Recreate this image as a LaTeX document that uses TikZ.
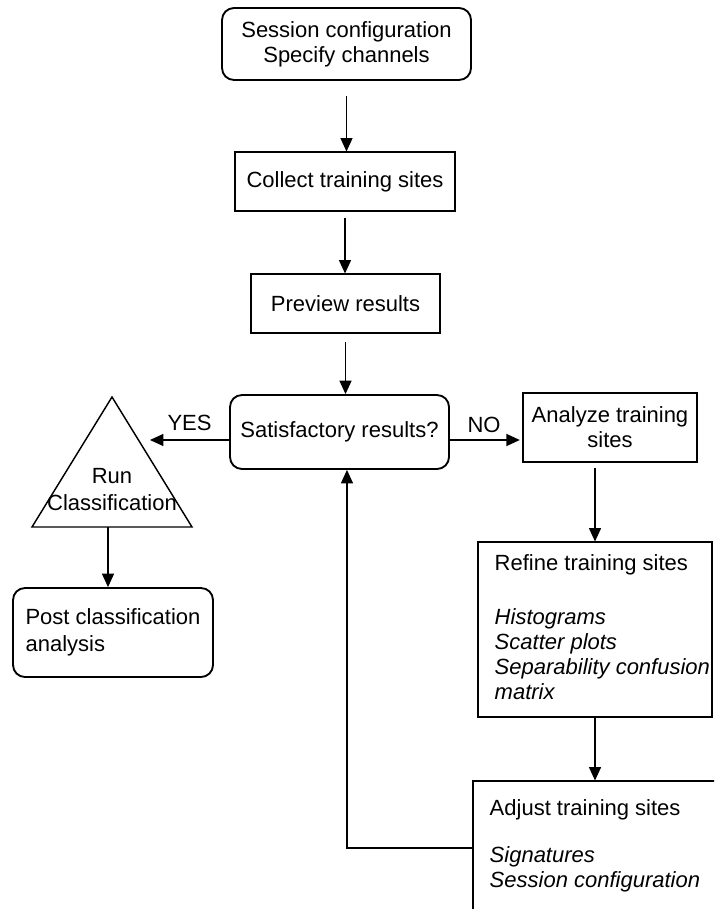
\documentclass[tikz,border=0pt]{standalone}
\usepackage{fontspec}
\setmainfont{Liberation Sans}
\usetikzlibrary{arrows.meta, positioning}

\begin{document}
\begin{tikzpicture}[x=0.75pt, y=-0.75pt,
  every node/.style={font=\fontsize{16.5}{18.75}\selectfont},
  rbox/.style={draw, rounded corners=9pt, line width=1.4pt, align=center, inner sep=0pt},
  pbox/.style={draw, line width=0.8pt, align=center, inner sep=0pt},
  lst/.style={align=left, inner sep=0pt, anchor=north west},
  arr/.style={-{Triangle[length=10pt, width=9pt]}, line width=0.8pt}]
\useasboundingbox (0,0) rectangle (714,909);
\clip (0,0) rectangle (714,909);

% main column
\node[rbox, minimum width=186.75pt, minimum height=54pt] (sess) at (346.5,44) {Session configuration\\Specify channels};
\node[pbox, minimum width=165pt, minimum height=44.25pt] (coll) at (345,181.5) {Collect training sites};
\node[pbox, minimum width=141.75pt, minimum height=44.25pt] (prev) at (345.5,303.5) {Preview results};
\node[rbox, minimum width=164.25pt, minimum height=55.5pt] (sat) at (339.5,432) {Satisfactory results?};

% right column
\node[pbox, minimum width=130.5pt, minimum height=51.75pt] (ana) at (610,427.5) {Analyze training\\sites};
\node[pbox, minimum width=175.5pt, minimum height=131.25pt] (ref) at (595,629.5) {};
\node[lst, below right=9.75pt and 12.75pt of ref.north west] (reftxt) {Refine training sites\\[21.75pt]
  \textit{Histograms}\\\textit{Scatter plots}\\\textit{Separability confusion}\\\textit{matrix}};
\node[pbox, minimum width=200.25pt, minimum height=115.5pt] (adj) at (606.5,858) {};
\node[lst, below right=14.25pt and 12.75pt of adj.north west] (adjtxt) {Adjust training sites\\[16.5pt]
  \textit{Signatures}\\\textit{Session configuration}};

% left column
\draw[line width=1.1pt] (112,397) -- (32,527) -- (192,527) -- cycle;
\node[align=center, inner sep=0pt] (run) at (112,489.5) {Run\\[1.5pt]Classification};
\node[rbox, align=left, minimum width=150pt, minimum height=66.75pt] (post) at (113,632.5) {Post classification\\[1.5pt]analysis};
\coordinate (yes) at (150,440);
\coordinate (tribase) at (108,527);

% connectors
\draw[arr, shorten <=11pt] (sess.south) -- (sess.south |- coll.north);
\draw[arr, shorten <=4.5pt] (coll.south) -- (coll.south |- prev.north);
\draw[arr, shorten <=6pt] (prev.south) -- (prev.south |- sat.north);
\draw[arr, shorten >=2pt] ([yshift=-6pt]sat.east) -- ([yshift=-6pt]sat.east -| ana.west)
  node[above=2pt, pos=0.47] {NO};
\draw[arr] ([yshift=-6pt]sat.west) -- (yes) node[above=3pt, midway] {YES};
\draw[arr, shorten <=4pt] (ref.north |- ana.south) -- (ref.north);
\draw[arr] (ref.south) -- (ref.south |- adj.north);
\draw[arr] (tribase) -- (tribase |- post.north);
\draw[arr] ([yshift=7.5pt]adj.west) -| ([xshift=5.6pt]sat.south);
\end{tikzpicture}
\end{document}
